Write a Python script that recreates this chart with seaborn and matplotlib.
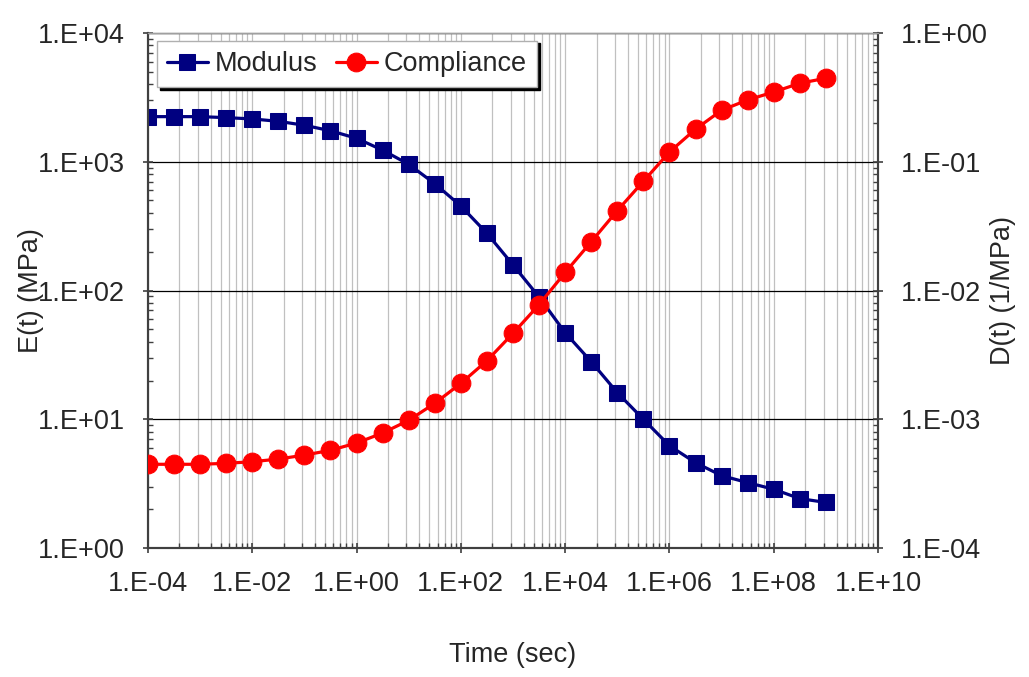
import numpy as np
import pandas as pd
import matplotlib
matplotlib.use("Agg")
import matplotlib.pyplot as plt
from matplotlib.ticker import FixedLocator, FuncFormatter, LogLocator, NullFormatter
import seaborn as sns

# Time points (s), half-decade spacing
time_s = [1e-4, 3.162e-4, 1e-3, 3.162e-3, 1e-2, 3.162e-2, 1e-1, 3.162e-1,
          1e0, 3.162e0, 1e1, 3.162e1, 1e2, 3.162e2, 1e3, 3.162e3,
          1e4, 3.162e4, 1e5, 3.162e5, 1e6, 3.162e6, 1e7, 3.162e7,
          1e8, 3.162e8, 1e9]

# Relaxation modulus E(t), MPa
modulus = [2240, 2240, 2240, 2200, 2150, 2060, 1920, 1740, 1520, 1230,
           955, 675, 453, 278, 158, 89, 47, 28.0, 16.1, 10.0,
           6.23, 4.60, 3.65, 3.22, 2.86, 2.42, 2.26]

# Creep compliance D(t), 1/MPa
compliance = [4.47e-4, 4.47e-4, 4.47e-4, 4.55e-4, 4.68e-4, 4.91e-4, 5.27e-4,
              5.74e-4, 6.54e-4, 7.82e-4, 9.81e-4, 1.33e-3, 1.90e-3, 2.85e-3,
              4.65e-3, 7.76e-3, 1.38e-2, 2.39e-2, 4.17e-2, 7.05e-2, 0.119,
              0.179, 0.251, 0.302, 0.348, 0.407, 0.445]

x_major = [1e-4, 1e-2, 1e0, 1e2, 1e4, 1e6, 1e8, 1e10]
legend_labels = ["Modulus", "Compliance"]

df = pd.DataFrame({"t": time_s, "E": modulus, "D": compliance})

sns.set_style("white")
plt.rcParams["font.family"] = ["Liberation Sans", "DejaVu Sans"]
FS = 19.5
SPINE = "#404040"

fig = plt.figure(figsize=(10.29, 6.77), dpi=100)
ax = fig.add_axes([0.1438, 0.1905, 0.8533 - 0.1438, 0.9513 - 0.1905])

sns.lineplot(data=df, x="t", y="E", ax=ax, color="#000080", marker="s",
             markersize=11.3, markeredgecolor="#000080", linewidth=2.3,
             label=legend_labels[0], legend=False, zorder=3)
ax2 = ax.twinx()
sns.lineplot(data=df, x="t", y="D", ax=ax2, color="#ff0000", marker="o",
             markersize=13.5, markeredgecolor="#ff0000", linewidth=2.3,
             label=legend_labels[1], legend=False, zorder=3)

ax.set_xscale("log")
ax.set_yscale("log")
ax2.set_yscale("log")
ax.set_xlim(1e-4, 1e10)
ax.set_ylim(1, 1e4)
ax2.set_ylim(1e-4, 1)

def sci_fmt(v, pos=None):
    e = int(round(np.log10(v)))
    return f"1.E{e:+03d}"

# x axis: major every two decades, minor marks spaced like a log scale inside each step
ax.xaxis.set_major_locator(FixedLocator(x_major))
minor_x = [m * k ** 2 for m in x_major[:-1] for k in range(2, 10)]
ax.xaxis.set_minor_locator(FixedLocator(minor_x))
ax.xaxis.set_major_formatter(FuncFormatter(sci_fmt))
ax.xaxis.set_minor_formatter(NullFormatter())

for a in (ax, ax2):
    a.yaxis.set_major_locator(LogLocator(base=10, numticks=20))
    a.yaxis.set_minor_locator(LogLocator(base=10, subs=np.arange(2, 10), numticks=20))
    a.yaxis.set_major_formatter(FuncFormatter(sci_fmt))
    a.yaxis.set_minor_formatter(NullFormatter())
    a.tick_params(which="major", direction="inout", length=7, width=1.2,
                  color=SPINE, labelsize=FS, pad=13)
    a.tick_params(which="minor", direction="in", length=3.6, width=1.0,
                  color=SPINE)

ax.tick_params(axis="y", which="both", left=True, right=False)
ax2.tick_params(axis="y", which="both", left=False, right=True)
ax.tick_params(axis="x", which="both", bottom=True, top=False)

# grid: light vertical lines, black horizontal decade lines
ax.grid(True, axis="x", which="both", color="#c0c0c0", linewidth=0.9)
ax.grid(True, axis="y", which="major", color="black", linewidth=0.9)
ax.set_axisbelow(True)

for a in (ax, ax2):
    for side in ("left", "bottom", "right"):
        a.spines[side].set_color(SPINE)
        a.spines[side].set_linewidth(1.5)
    a.spines["top"].set_color("#a0a0a0")
    a.spines["top"].set_linewidth(1.0)

ax.set_xlabel("Time (sec)", fontsize=FS)
ax.set_ylabel("E(t) (MPa)", fontsize=FS)
ax2.set_ylabel("D(t) (1/MPa)", fontsize=FS)
ax.xaxis.set_label_coords(0.5, -0.182)
ax.yaxis.set_label_coords(-0.142, 0.5)
ax2.yaxis.set_label_coords(1.154, 0.5)

h1, l1 = ax.get_legend_handles_labels()
h2, l2 = ax2.get_legend_handles_labels()
leg = ax2.legend(h1 + h2, l1 + l2, loc="upper left", bbox_to_anchor=(0.012, 0.985),
                 borderaxespad=0, ncol=2, fontsize=FS, frameon=True, fancybox=False,
                 framealpha=1, edgecolor="#b0b0b0", handlelength=1.5,
                 handletextpad=0.25, columnspacing=0.7, borderpad=0.38,
                 shadow={"color": "black", "alpha": 1})
leg.get_frame().set_linewidth(1.0)

fig.savefig("out.png", dpi=100)
